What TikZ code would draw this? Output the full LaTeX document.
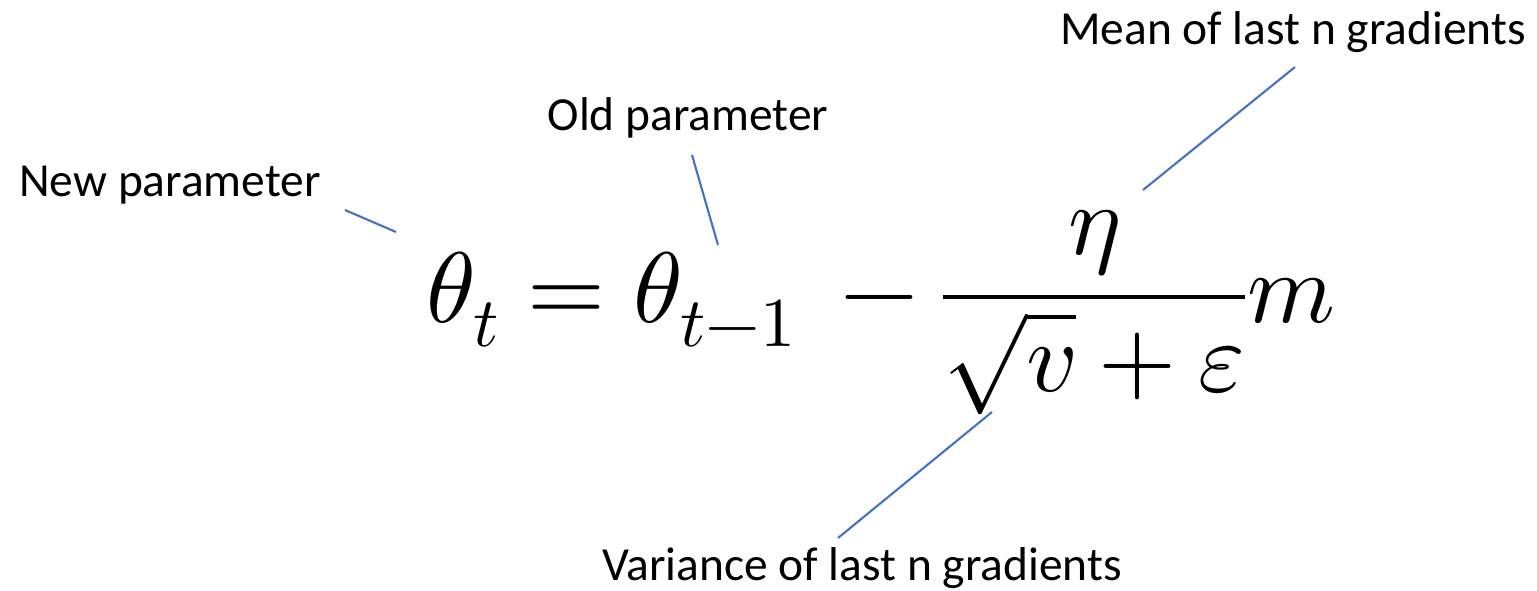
\documentclass[tikz,border=0pt]{standalone}
\usepackage{amsmath}
\usepackage{fontspec}
\usepackage{unicode-math}
\setmainfont{Carlito}
\setmathfont{Latin Modern Math}
\usetikzlibrary{positioning}
\definecolor{pointerblue}{HTML}{4472C4}

\begin{document}
\begin{tikzpicture}[x=0.02cm, y=-0.02cm,
    label/.style={font=\fontsize{27}{32}\selectfont, inner sep=0pt},
    pointer/.style={draw=pointerblue, line width=1.2pt}]

    \useasboundingbox (0,0) rectangle (1537,591);

    % the update rule
    \node [anchor=base, inner sep=0pt] (rule) at (881,322)
        {\fontsize{57}{66}\selectfont $\displaystyle \theta_t = \theta_{t-1}\ -\frac{\eta}{\sqrt{v}+\varepsilon}m$};

    % labels
    \node [label] (newp) at (170,185) {New parameter};
    \node [label] (oldp) at (688,118) {Old parameter};
    \node [label] (mean) at (1293,32) {Mean of last n gradients};
    \node [label] (var) at (862,568) {Variance of last n gradients};

    % pointer ends
    \coordinate (newp-a) at (345,210);
    \coordinate (newp-b) at (396,232);
    \coordinate (oldp-a) at (692,155);
    \coordinate (oldp-b) at (718,245);
    \coordinate (mean-a) at (1295,67);
    \coordinate (mean-b) at (1143,190);
    \coordinate (var-a) at (838,538);
    \coordinate (var-b) at (992,412);

    \draw [pointer] (newp-a) -- (newp-b);
    \draw [pointer] (oldp-a) -- (oldp-b);
    \draw [pointer] (mean-a) -- (mean-b);
    \draw [pointer] (var-a) -- (var-b);

\end{tikzpicture}
\end{document}
